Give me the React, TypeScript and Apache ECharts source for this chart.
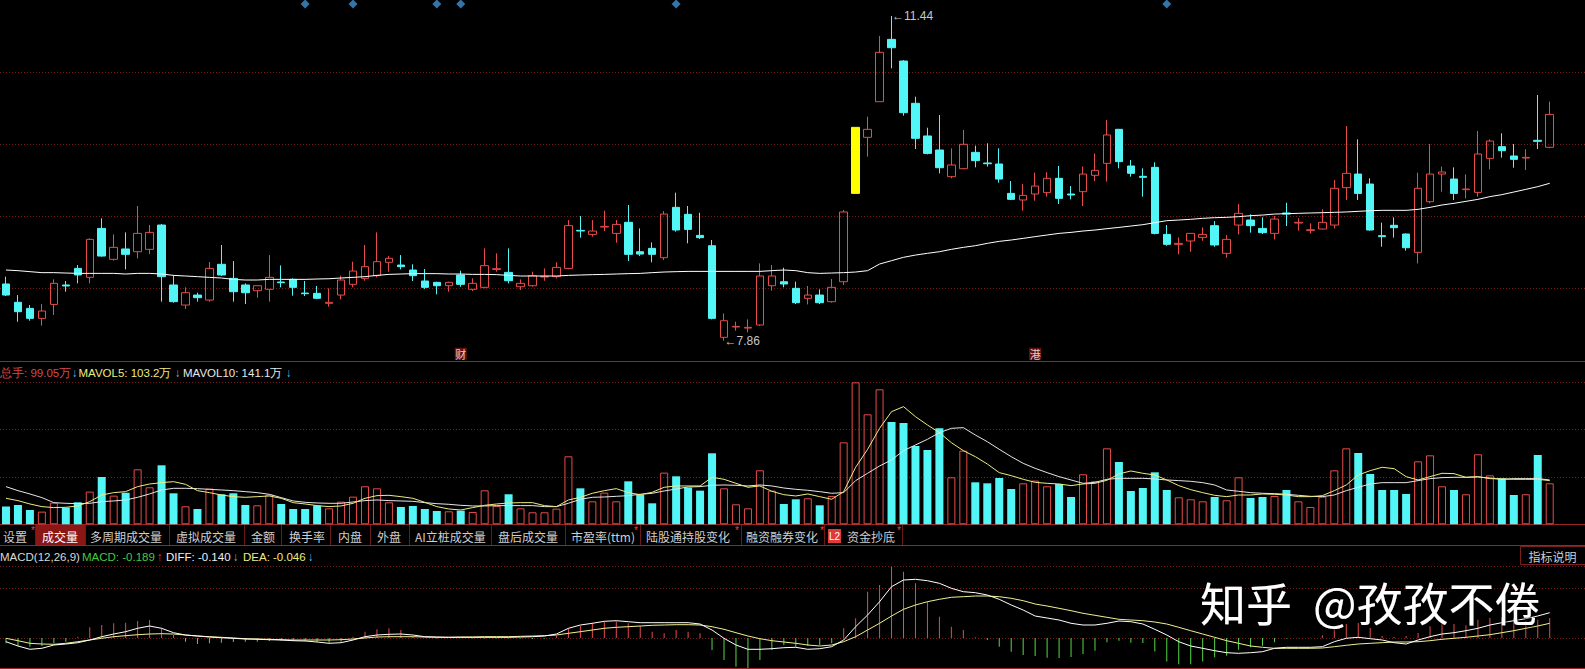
import React, { useEffect, useRef } from 'react';
import * as echarts from 'echarts';

// ---------- DATA ----------
// [open, close, low, high]
const candles: number[][] = [
[8.485,8.363,8.352,8.566],[8.283,8.180,8.069,8.363],[8.216,8.106,8.080,8.253],[8.106,8.187,8.025,8.264],[8.260,8.492,8.143,8.536],
[8.474,8.463,8.400,8.518],[8.657,8.584,8.492,8.694],[8.558,8.977,8.492,8.988],[9.098,8.793,8.786,9.209],[8.757,8.889,8.742,9.032],
[8.871,8.812,8.646,9.054],[8.841,9.043,8.768,9.345],[8.867,9.054,8.815,9.135],[9.135,8.566,8.290,9.146],[8.474,8.290,8.279,8.584],
[8.253,8.389,8.209,8.448],[8.363,8.334,8.290,8.389],[8.308,8.657,8.290,8.727],[8.702,8.584,8.573,8.915],[8.547,8.400,8.290,8.738],
[8.474,8.389,8.264,8.492],[8.411,8.466,8.334,8.470],[8.426,8.558,8.290,8.804],[8.507,8.499,8.448,8.690],[8.536,8.448,8.356,8.547],
[8.385,8.378,8.352,8.518],[8.382,8.327,8.319,8.463],[8.272,8.283,8.235,8.437],[8.363,8.529,8.316,8.577],[8.481,8.628,8.448,8.731],
[8.547,8.676,8.521,8.915],[8.577,8.731,8.558,9.054],[8.724,8.768,8.621,8.793],[8.694,8.676,8.646,8.804],[8.639,8.577,8.518,8.702],
[8.518,8.448,8.430,8.650],[8.503,8.466,8.371,8.510],[8.466,8.503,8.400,8.510],[8.584,8.481,8.455,8.632],[8.426,8.492,8.408,8.547],
[8.448,8.687,8.437,8.878],[8.646,8.654,8.621,8.823],[8.613,8.521,8.492,8.878],[8.455,8.492,8.419,8.536],[8.466,8.577,8.455,8.621],
[8.562,8.569,8.521,8.657],[8.566,8.668,8.547,8.724],[8.657,9.128,8.646,9.190],[9.076,9.069,8.996,9.234],[9.032,9.069,9.007,9.190],
[9.113,9.120,9.069,9.293],[9.043,9.142,8.940,9.190],[9.165,8.812,8.738,9.356],[8.841,8.815,8.793,9.098],[8.878,8.812,8.724,8.944],
[8.775,9.256,8.749,9.289],[9.330,9.080,9.062,9.492],[9.253,9.087,8.933,9.345],[9.021,8.996,8.981,9.271],[8.907,8.106,8.095,8.970],
[7.897,8.080,7.860,8.161],[8.011,8.018,7.970,8.069],[7.999,8.007,7.952,8.095],[8.033,8.573,8.022,8.712],[8.466,8.573,8.411,8.694],
[8.510,8.485,8.448,8.665],[8.437,8.279,8.264,8.510],[8.327,8.363,8.260,8.463],[8.363,8.279,8.264,8.426],[8.290,8.448,8.279,8.540],
[8.510,9.279,8.474,9.301],[9.484,10.212,9.484,10.212],[10.102,10.190,9.889,10.330],[10.495,11.039,10.495,11.219],[11.182,11.090,10.863,11.440],
[10.943,10.374,10.341,10.954],[10.477,10.091,9.973,10.550],[10.117,9.925,9.914,10.208],[9.962,9.767,9.705,10.348],[9.668,9.797,9.650,9.981],
[9.756,10.025,9.749,10.183],[9.936,9.845,9.771,10.010],[9.819,9.811,9.779,10.036],[9.808,9.642,9.602,9.981],[9.484,9.418,9.411,9.620],
[9.411,9.462,9.293,9.587],[9.477,9.565,9.404,9.712],[9.492,9.650,9.448,9.716],[9.650,9.429,9.367,9.786],[9.477,9.466,9.418,9.565],
[9.503,9.697,9.345,9.779],[9.683,9.738,9.620,9.925],[9.815,10.128,9.613,10.293],[10.190,9.834,9.760,10.195],[9.786,9.705,9.668,9.852],
[9.672,9.661,9.448,9.760],[9.771,9.043,9.032,9.826],[9.032,8.922,8.907,9.135],[8.922,8.933,8.812,8.999],[8.959,9.043,8.841,9.046],
[8.999,9.032,8.962,9.109],[9.128,8.915,8.896,9.179],[8.823,8.977,8.775,9.025],[9.135,9.264,9.032,9.367],[9.190,9.128,9.051,9.253],
[9.098,9.051,9.036,9.220],[9.043,9.201,8.977,9.234],[9.268,9.256,9.124,9.381],[9.157,9.165,9.073,9.209],[9.076,9.083,9.043,9.154],
[9.091,9.165,9.087,9.308],[9.135,9.540,9.098,9.631],[9.547,9.705,9.411,10.227],[9.697,9.484,9.411,10.080],[9.587,9.080,9.073,9.650],
[9.018,9.007,8.896,9.161],[9.132,9.106,8.996,9.220],[9.036,8.885,8.852,9.043],[8.834,9.540,8.712,9.712],[9.392,9.697,9.374,10.028],
[9.697,9.720,9.503,9.779],[9.642,9.484,9.411,9.771],[9.525,9.532,9.429,9.694],[9.495,9.918,9.448,10.172],[9.870,10.061,9.749,10.080],
[9.999,9.955,9.878,10.146],[9.896,9.859,9.767,10.028],[9.874,9.881,9.742,9.970],[10.069,10.058,9.973,10.569],[9.992,10.355,9.981,10.495]
];
const specialYellowIndex = 71;

const maLine = [
8.639,8.632,8.621,8.610,8.610,8.606,8.602,8.602,8.602,8.602,
8.595,8.602,8.602,8.595,8.580,8.573,8.566,8.558,8.551,8.536,
8.529,8.529,8.536,8.536,8.536,8.536,8.540,8.543,8.551,8.558,
8.566,8.580,8.591,8.595,8.599,8.599,8.599,8.595,8.595,8.591,
8.591,8.588,8.580,8.573,8.573,8.573,8.573,8.580,8.584,8.588,
8.591,8.595,8.599,8.602,8.610,8.617,8.621,8.624,8.624,8.624,
8.624,8.624,8.624,8.624,8.632,8.639,8.632,8.610,8.602,8.606,
8.610,8.617,8.632,8.705,8.742,8.779,8.804,8.823,8.841,8.867,
8.889,8.907,8.933,8.955,8.970,8.988,9.007,9.025,9.043,9.054,
9.069,9.080,9.095,9.109,9.124,9.139,9.161,9.183,9.190,9.198,
9.209,9.216,9.220,9.227,9.238,9.245,9.256,9.260,9.264,9.268,
9.271,9.275,9.279,9.286,9.293,9.297,9.297,9.297,9.308,9.330,
9.356,9.374,9.396,9.418,9.448,9.470,9.499,9.528,9.558,9.595
];

// volume in 万手
const volumes = [
42.7,46.7,34.6,30.6,52.3,40.3,53.1,78.9,114.3,69.2,
76.5,132.8,89.4,142.5,74.9,43.5,37.0,86.1,72.5,74.9,
46.7,45.9,71.6,49.1,37.0,37.0,45.1,38.6,54.7,66.8,
91.8,86.9,53.1,41.9,44.3,37.0,32.2,31.4,33.0,29.8,
82.1,44.3,72.5,38.6,29.0,29.0,37.8,164.2,86.9,55.5,
76.5,55.5,103.8,70.8,50.7,124.8,115.9,88.6,81.3,171.5,
86.9,48.3,38.6,130.4,81.3,49.1,60.4,62.8,45.9,68.4,
198.0,342.9,265.7,326.0,247.1,244.7,189.2,179.5,231.8,113.5,
177.9,101.4,99.0,111.9,85.3,99.0,105.5,91.8,97.4,66.0,
120.8,103.8,183.5,150.5,80.5,87.7,125.6,82.9,65.2,60.4,
55.5,66.0,58.0,113.5,63.6,66.0,68.4,82.9,55.5,41.9,
66.8,130.4,183.5,172.3,121.6,82.9,82.9,73.3,152.1,166.6,
91.8,82.9,72.5,169.1,118.3,111.1,70.8,72.5,167.4,99.05
];
const mavol5 = [
62.8,57.2,49.1,42.7,40.3,41.1,44.3,54.7,70.8,76.5,
78.9,91.0,97.4,100.6,103.0,96.6,81.3,76.5,70.8,66.8,
65.2,66.8,68.4,62.8,52.3,49.1,45.1,42.7,44.3,50.7,
62.8,69.2,70.0,66.8,62.8,53.1,42.7,37.0,34.6,40.3,
45.9,49.1,51.5,52.3,52.3,45.1,42.7,58.8,65.2,74.9,
81.3,86.1,76.5,71.6,77.3,89.4,92.6,92.6,92.6,113.5,
108.7,99.0,89.4,92.6,79.7,71.6,68.4,73.3,66.8,60.4,
78.9,137.7,181.1,231.8,272.1,284.2,260.0,239.9,221.4,197.2,
177.9,163.4,145.7,124.8,117.5,108.7,101.4,99.0,97.4,93.4,
97.4,99.0,106.3,121.6,128.8,123.2,119.1,107.1,93.4,83.7,
76.5,70.0,66.8,70.8,70.8,73.3,72.5,70.8,66.8,66.8,
69.2,81.3,95.0,119.1,129.6,137.7,134.4,115.1,107.1,115.1,
123.2,122.4,113.5,115.1,110.3,109.5,108.7,108.7,108.7,105.5
];
const mavol10 = [
91.0,81.3,73.3,64.4,52.3,50.7,49.9,50.7,54.7,56.4,
58.8,65.2,73.3,82.9,86.9,86.9,86.1,84.5,82.9,81.3,
78.9,76.5,72.5,64.4,56.4,53.1,51.5,50.7,50.7,53.9,
57.2,58.8,57.2,56.4,55.5,52.3,49.9,48.3,45.9,44.3,
44.3,45.1,45.1,45.1,45.1,42.7,42.7,50.7,60.4,65.2,
66.0,67.6,69.2,72.5,74.9,80.5,85.3,90.2,91.0,94.2,
95.0,94.2,92.6,95.0,92.6,87.7,84.5,82.1,78.9,74.9,
76.5,105.5,123.2,140.9,155.4,177.9,191.6,205.3,221.4,231.8,
233.5,215.7,199.6,181.1,163.4,147.3,135.2,124.8,115.1,107.1,
99.0,101.4,108.7,111.1,111.1,111.1,109.5,107.1,105.5,103.8,
100.6,95.0,82.9,79.7,76.5,74.9,74.1,72.5,70.0,67.6,
66.8,70.8,81.3,89.4,97.4,100.6,100.6,100.6,105.5,110.3,
112.7,113.5,113.5,114.3,111.9,108.7,110.3,110.3,110.3,107.1
];

const diffLine = [
-0.037,-0.080,-0.113,-0.103,-0.070,-0.060,-0.047,-0.020,0.013,0.040,
0.063,0.097,0.120,0.097,0.053,0.030,0.020,0.010,0.003,-0.003,
-0.010,-0.013,-0.017,-0.020,-0.027,-0.030,-0.040,-0.053,-0.047,-0.020,
0.013,0.030,0.037,0.040,0.030,0.013,0.010,0.007,0.007,0.007,
0.007,0.007,0.007,0.010,0.013,0.020,0.040,0.097,0.130,0.147,
0.167,0.173,0.163,0.153,0.153,0.153,0.153,0.153,0.140,0.080,
-0.003,-0.070,-0.113,-0.113,-0.107,-0.097,-0.093,-0.113,-0.107,-0.087,
-0.020,0.113,0.230,0.363,0.513,0.580,0.587,0.573,0.547,0.497,
0.463,0.453,0.430,0.387,0.330,0.280,0.220,0.200,0.180,0.147,
0.130,0.130,0.147,0.170,0.163,0.140,0.087,0.030,-0.037,-0.080,
-0.103,-0.127,-0.147,-0.153,-0.147,-0.137,-0.103,-0.093,-0.093,-0.093,
-0.087,-0.037,-0.003,0.007,-0.007,-0.020,-0.047,-0.060,-0.020,0.013,
0.040,0.053,0.073,0.097,0.130,0.153,0.173,0.193,0.220,0.253
];
const deaLine = [
-0.003,-0.027,-0.053,-0.060,-0.063,-0.053,-0.037,-0.020,-0.003,0.013,
0.023,0.033,0.040,0.043,0.040,0.030,0.020,0.013,0.007,0.000,
-0.007,-0.010,-0.013,-0.017,-0.020,-0.020,-0.020,-0.020,-0.017,-0.010,
0.000,0.010,0.013,0.013,0.013,0.010,0.007,0.007,0.010,0.010,
0.013,0.013,0.013,0.017,0.020,0.023,0.030,0.047,0.063,0.080,
0.097,0.107,0.113,0.120,0.127,0.130,0.133,0.133,0.130,0.113,
0.087,0.053,0.020,-0.007,-0.027,-0.040,-0.053,-0.070,-0.080,-0.070,
-0.037,0.013,0.080,0.147,0.220,0.287,0.330,0.363,0.387,0.407,
0.413,0.420,0.420,0.413,0.397,0.373,0.340,0.320,0.297,0.273,
0.247,0.227,0.207,0.187,0.180,0.173,0.160,0.140,0.107,0.073,
0.040,0.007,-0.027,-0.053,-0.080,-0.093,-0.103,-0.103,-0.103,-0.103,
-0.100,-0.087,-0.073,-0.060,-0.053,-0.047,-0.040,-0.040,-0.037,-0.027,
-0.013,-0.003,0.007,0.020,0.033,0.053,0.073,0.097,0.120,0.147
];
const macdHist = [
-0.053,-0.080,-0.087,-0.080,-0.053,-0.037,0.013,0.107,0.130,0.147,
0.153,0.170,0.180,0.097,0.030,-0.037,-0.060,-0.053,-0.047,-0.040,
-0.037,-0.037,-0.030,-0.027,-0.027,-0.030,-0.037,-0.047,-0.037,0.013,
0.063,0.087,0.097,0.080,0.013,0.002,-0.005,0.003,-0.003,-0.005,
-0.005,-0.005,-0.005,-0.005,-0.010,-0.005,0.020,0.097,0.120,0.153,
0.163,0.167,0.147,0.120,0.063,0.047,0.080,0.063,0.047,-0.120,
-0.220,-0.287,-0.303,-0.220,-0.120,-0.070,-0.087,-0.080,-0.070,-0.053,
0.097,0.197,0.463,0.530,0.713,0.663,0.547,0.363,0.213,0.113,
0.080,0.007,-0.020,-0.087,-0.137,-0.170,-0.180,-0.197,-0.200,-0.190,
-0.160,-0.127,-0.043,-0.027,-0.048,-0.050,-0.135,-0.235,-0.263,-0.263,
-0.235,-0.193,-0.177,-0.118,-0.093,-0.077,-0.043,-0.005,0.003,0.003,
0.027,0.100,0.140,0.150,0.100,0.020,0.010,0.020,0.050,0.117,
0.140,0.140,0.127,0.183,0.200,0.207,0.200,0.167,0.183,0.200
];

const diamondIdx = [25, 29, 36, 38, 56, 97];
const diamondPrice = 11.572;
const eventMarks = [{ idx: 38, text: '财' }, { idx: 86, text: '港' }];
const eventPrice = 7.716;
const highMark = { idx: 74, value: 11.44 };
const lowMark = { idx: 60, value: 7.86 };

const volHeader = { total: '99.05万', mavol5: '103.2万', mavol10: '141.1万' };
const macdHeader = { macd: '-0.189', diff: '-0.140', dea: '-0.046' };

const tabs = [
  { t: '设置', x: 3, star: 31 },
  { t: '成交量', x: 42, sel: true },
  { t: '多周期成交量', x: 90 },
  { t: '虚拟成交量', x: 176 },
  { t: '金额', x: 251 },
  { t: '换手率', x: 289 },
  { t: '内盘', x: 338 },
  { t: '外盘', x: 377 },
  { t: 'AI立桩成交量', x: 415 },
  { t: '盘后成交量', x: 498 },
  { t: '市盈率(ttm)', x: 571, star: 634 },
  { t: '陆股通持股变化', x: 646, star: 735 },
  { t: '融资融券变化', x: 746, star: 820 },
  { t: '资金抄底', x: 847, star: 897 },
];
const tabSeps = [35.5, 85.5, 169.5, 244.5, 281.5, 330.5, 370.5, 409.5, 491.5, 565.5, 640.5, 741.5, 824.5, 902.5];

// ---------- STYLE ----------
const W = 1585;
const RED = '#e54c4a';
const CYAN = '#52f6f6';
const GREEN = '#56d646';
const YEL = '#ecec80';
const ARROW = '#5ab6de';
const LAT = '11.5px "Liberation Sans", Arial, sans-serif';
const ARW = '12px "Liberation Sans", Arial, sans-serif';
const CJK = '12px "Noto Sans CJK SC", sans-serif';

const dotted = (y: number) => ({
  type: 'line', silent: true, z: 0,
  shape: { x1: 0, y1: y, x2: W, y2: y },
  style: { stroke: '#741c1c', lineWidth: 1, lineDash: [1, 2] },
});
const solid = (y: number) => ({
  type: 'line', silent: true, z: 0,
  shape: { x1: 0, y1: y, x2: W, y2: y },
  style: { stroke: '#9c2424', lineWidth: 1 },
});
const txt = (x: number, y: number, text: string, fill: string, font = LAT, extra: any = {}) => ({
  type: 'text', x, y, silent: true, z: 10,
  style: { text, fill, font, textVerticalAlign: 'middle', textAlign: 'left', ...extra },
});

export default function App() {
  const ref = useRef<HTMLDivElement>(null);
  useEffect(() => {
    document.body.style.margin = '0';
    document.body.style.background = '#000';
    if (!ref.current) return;
    const chart = echarts.init(ref.current, undefined, { renderer: 'svg' });
    const cats = candles.map((_, i) => String(i));

    const candleData = candles.map((c, i) =>
      i === specialYellowIndex
        ? { value: c, itemStyle: { color: '#ffff00', borderColor: '#ffff00', color0: '#ffff00', borderColor0: '#ffff00' } }
        : c
    );
    const volData = volumes.map((v, i) => {
      const up = candles[i][1] >= candles[i][0];
      return {
        value: v,
        itemStyle: up
          ? { color: 'rgba(0,0,0,0)', borderColor: RED, borderWidth: 1 }
          : { color: CYAN, borderWidth: 0 },
      };
    });

    const graphic: any[] = [
      dotted(72.5), dotted(144.5), dotted(216.5), dotted(288.5),
      solid(361.5),
      dotted(382.5), dotted(429.5), dotted(477.5),
      solid(524.5), solid(545.5),
      dotted(566.5), dotted(588.5), dotted(638.5),
      solid(668.5),
      // volume header
      txt(0, 373, '总手: ' + volHeader.total, '#d84a4a'),
      txt(71.5, 373, '↓', ARROW, ARW),
      txt(78.5, 373, 'MAVOL5: ' + volHeader.mavol5, YEL),
      txt(174.5, 373, '↓', ARROW, ARW),
      txt(183, 373, 'MAVOL10: ' + volHeader.mavol10, '#e8e8e8'),
      txt(285.5, 373, '↓', ARROW, ARW),
      // MACD header
      txt(0, 557, 'MACD(12,26,9)', '#d8d8d8'),
      txt(82, 557, 'MACD: ' + macdHeader.macd, '#44c840'),
      txt(156.5, 557, '↑', '#e04040', ARW),
      txt(166, 557, 'DIFF: ' + macdHeader.diff, '#f0f0f0'),
      txt(232.5, 557, '↓', ARROW, ARW),
      txt(243, 557, 'DEA: ' + macdHeader.dea, YEL),
      txt(307.5, 557, '↓', ARROW, ARW),
      // selected tab
      { type: 'rect', silent: true, z: 1, shape: { x: 36, y: 525, width: 49, height: 20 }, style: { fill: '#8a1616' } },
      // L2 badge
      { type: 'rect', silent: true, z: 1, shape: { x: 828, y: 529, width: 13, height: 14 }, style: { fill: '#e03a3a' } },
      txt(834.5, 536.5, 'L2', '#ffffff', '10px "Liberation Sans", Arial, sans-serif', { textAlign: 'center' }),
      // indicator button
      { type: 'rect', silent: true, z: 1, shape: { x: 1520.5, y: 546.5, width: 70, height: 18 }, style: { fill: 'rgba(0,0,0,0)', stroke: '#7a1e1e', lineWidth: 1 } },
      txt(1552.5, 556, '指标说明', '#d0d0d0', CJK, { textAlign: 'center' }),
      // watermark
      {
        type: 'text', x: 1200, y: 601, silent: true, z: 100,
        style: { text: '知乎', fill: '#ffffff', font: '46px "Noto Sans CJK SC", sans-serif', textVerticalAlign: 'middle', textShadowColor: 'rgba(0,0,0,0.8)', textShadowBlur: 3, textShadowOffsetX: 1, textShadowOffsetY: 1 },
      },
      {
        type: 'text', x: 1313, y: 601, silent: true, z: 100,
        style: { text: '@孜孜不倦', fill: '#ffffff', font: '46px "Noto Sans CJK SC", sans-serif', textVerticalAlign: 'middle', textShadowColor: 'rgba(0,0,0,0.8)', textShadowBlur: 3, textShadowOffsetX: 1, textShadowOffsetY: 1 },
      },
    ];
    tabSeps.forEach((x) => graphic.push({
      type: 'line', silent: true, z: 1,
      shape: { x1: x, y1: 525, x2: x, y2: 545 },
      style: { stroke: '#6a1818', lineWidth: 1 },
    }));
    tabs.forEach((tb: any) => {
      graphic.push(txt(tb.x, 536, tb.t, tb.sel ? '#ffffff' : '#cfcfcf', CJK));
      if (tb.star) graphic.push(txt(tb.star, 530, '*', '#ff3a3a', '10px "Liberation Sans", Arial, sans-serif'));
    });

    const option: any = {
      backgroundColor: '#000',
      animation: false,
      grid: [
        { left: -4.3, width: 1560, top: 0, height: 361 },
        { left: -4.3, width: 1560, top: 382.3, height: 142 },
        { left: -4.3, width: 1560, top: 560, height: 108 },
      ],
      xAxis: [0, 1, 2].map((g) => ({ type: 'category', gridIndex: g, data: cats, show: false, boundaryGap: true })),
      yAxis: [
        { type: 'value', gridIndex: 0, min: 7.636, max: 11.616, show: false, splitLine: { show: false } },
        { type: 'value', gridIndex: 1, min: 0, max: 343, show: false, splitLine: { show: false } },
        { type: 'value', gridIndex: 2, min: -0.3, max: 0.78, show: false, splitLine: { show: false } },
      ],
      graphic,
      series: [
        {
          type: 'candlestick', xAxisIndex: 0, yAxisIndex: 0, barWidth: 8, z: 3,
          data: candleData,
          itemStyle: { color: 'rgba(0,0,0,0)', color0: CYAN, borderColor: RED, borderColor0: CYAN, borderWidth: 1 },
          markPoint: {
            symbol: 'circle', symbolSize: 1, silent: true,
            itemStyle: { color: 'rgba(0,0,0,0)' },
            label: { show: true, position: 'right', distance: 0, color: '#c8c8c8', fontSize: 12, fontFamily: '"Liberation Sans", Arial, sans-serif' },
            data: [
              { coord: [String(highMark.idx), highMark.value], label: { formatter: '←' + highMark.value.toFixed(2) } },
              { coord: [String(lowMark.idx), lowMark.value], label: { formatter: '←' + lowMark.value.toFixed(2) } },
            ],
          },
        },
        {
          type: 'line', xAxisIndex: 0, yAxisIndex: 0, data: maLine, symbol: 'none', z: 4,
          lineStyle: { color: '#ffffff', width: 1 },
        },
        {
          type: 'scatter', xAxisIndex: 0, yAxisIndex: 0, symbol: 'diamond', symbolSize: [9, 9], z: 5,
          itemStyle: { color: '#3d92d4' },
          data: diamondIdx.map((i) => [i, diamondPrice]),
        },
        {
          type: 'scatter', xAxisIndex: 0, yAxisIndex: 0, symbol: 'rect', symbolSize: [12, 12], z: 5,
          itemStyle: { color: '#7e1414' },
          label: { show: true, position: 'inside', color: '#ffffff', fontSize: 11, fontFamily: '"Noto Sans CJK SC", sans-serif', formatter: (p: any) => p.data.name },
          data: eventMarks.map((e) => ({ value: [e.idx, eventPrice], name: e.text })),
        },
        {
          type: 'bar', xAxisIndex: 1, yAxisIndex: 1, barWidth: 8, z: 3, data: volData,
        },
        {
          type: 'line', xAxisIndex: 1, yAxisIndex: 1, data: mavol10, symbol: 'none', z: 4,
          lineStyle: { color: '#e6e6e6', width: 1 },
        },
        {
          type: 'line', xAxisIndex: 1, yAxisIndex: 1, data: mavol5, symbol: 'none', z: 4,
          lineStyle: { color: YEL, width: 1 },
        },
        {
          type: 'bar', xAxisIndex: 2, yAxisIndex: 2, barWidth: 1, z: 3, data: macdHist,
          itemStyle: { color: (p: any) => (p.value >= 0 ? RED : GREEN) },
        },
        {
          type: 'line', xAxisIndex: 2, yAxisIndex: 2, data: deaLine, symbol: 'none', z: 4,
          lineStyle: { color: '#f0f090', width: 1 },
        },
        {
          type: 'line', xAxisIndex: 2, yAxisIndex: 2, data: diffLine, symbol: 'none', z: 4,
          lineStyle: { color: '#ffffff', width: 1 },
        },
      ],
    };
    chart.setOption(option);
    return () => chart.dispose();
  }, []);
  return <div ref={ref} style={{ width: 1585, height: 669, background: '#000' }} />;
}
